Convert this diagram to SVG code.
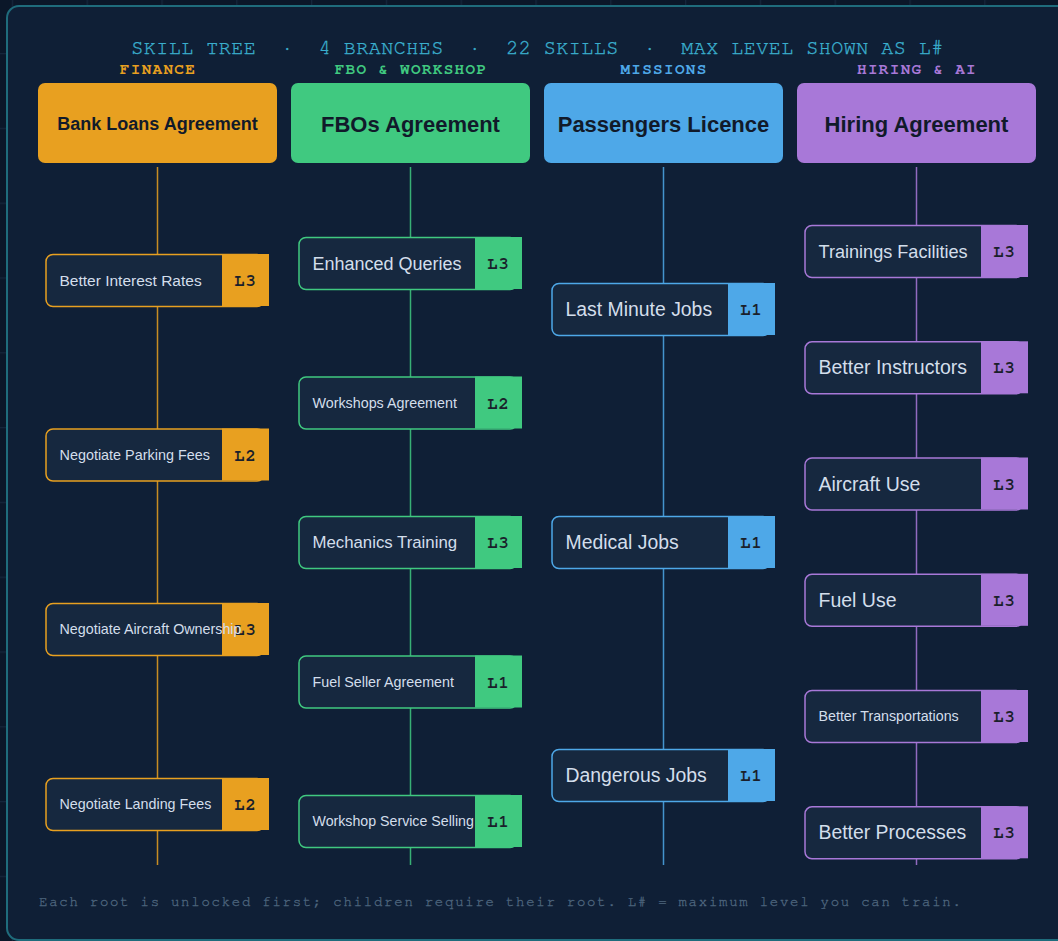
<svg xmlns="http://www.w3.org/2000/svg" width="1058" height="941" viewBox="0 0 1058 941">
  <defs>
    <pattern id="grid" x="11.8" y="-21.8" width="74.8" height="74.8" patternUnits="userSpaceOnUse">
      <path d="M0.5 0V74.8M0 0.5H74.8" fill="none" stroke="#15263b" stroke-width="1.5"/>
    </pattern>
    <style>
      .title{font-family:"Nimbus Mono PS","FreeMono","Courier New",Courier,"Liberation Mono",monospace;font-size:20px;letter-spacing:0.5px;fill:#3aaecd;stroke:#3aaecd;stroke-width:0.35px}
      .blabel{font-family:"Nimbus Mono PS","FreeMono","Courier New",Courier,"Liberation Mono",monospace;font-size:16px;font-weight:bold;letter-spacing:1.3px}
      .roottxt{font-family:"Liberation Sans",Arial,sans-serif;font-weight:bold;fill:#111a2a;text-anchor:middle}
      .node{fill:#16283f;stroke-width:1.5}
      .ntxt{font-family:"Liberation Sans",Arial,sans-serif;fill:#d3deeb}
      .btxt{font-family:"Nimbus Mono PS","FreeMono","Courier New",Courier,"Liberation Mono",monospace;font-size:17px;font-weight:bold;fill:#1a1f2b;text-anchor:middle;letter-spacing:1px}
      .fin{stroke:#e8a020}.fbo{stroke:#40c980}.mis{stroke:#4ea8e8}.hir{stroke:#a878d8}
      .finf{fill:#e8a020}.fbof{fill:#40c980}.misf{fill:#4ea8e8}.hirf{fill:#a878d8}
      .edge{stroke-width:1.5;fill:none;stroke-opacity:0.85}
      .foot{font-family:"Nimbus Mono PS","FreeMono","Courier New",Courier,"Liberation Mono",monospace;font-size:14px;letter-spacing:1.75px;fill:#506880;stroke:#506880;stroke-width:0.3px}
    </style>
  </defs>

  <rect width="1058" height="941" fill="#0b1729"/>
  <rect width="1058" height="941" fill="url(#grid)"/>
  <rect x="7" y="6" width="1080" height="934" rx="12" fill="#0f1f36" stroke="#1f6c7c" stroke-width="2"/>

  <text class="title" x="537.5" y="54" text-anchor="middle" xml:space="preserve">SKILL TREE  ·  4 BRANCHES  ·  22 SKILLS  ·  MAX LEVEL SHOWN AS L#</text>
  <text class="blabel finf" x="158" y="74" text-anchor="middle">FINANCE</text>
  <text class="blabel fbof" x="411" y="74" text-anchor="middle">FBO &amp; WORKSHOP</text>
  <text class="blabel misf" x="664" y="74" text-anchor="middle">MISSIONS</text>
  <text class="blabel hirf" x="917" y="74" text-anchor="middle">HIRING &amp; AI</text>

  <g id="connectors">
    <path class="edge fin" d="M157.5 167V254.5M157.5 306.5V429M157.5 481V603.5M157.5 655.5V778.5M157.5 830.5V865"/>
    <path class="edge fbo" d="M410.5 167V237.5M410.5 289.5V377M410.5 429V516.5M410.5 568.5V656M410.5 708V795.5M410.5 847.5V865"/>
    <path class="edge mis" d="M663.5 167V283.5M663.5 335.5V516.5M663.5 568.5V749.5M663.5 801.5V865"/>
    <path class="edge hir" d="M916.5 167V225.5M916.5 277.5V341.8M916.5 393.8V458M916.5 510V574.3M916.5 626.3V690.5M916.5 742.5V806.8M916.5 858.8V865"/>
  </g>

  <!-- Roots -->
  <g id="root-finance"><rect class="finf" x="38" y="83" width="239" height="80" rx="7"/><text class="roottxt" x="157.5" y="130" font-size="18">Bank Loans Agreement</text></g>
  <g id="root-fbo"><rect class="fbof" x="291" y="83" width="239" height="80" rx="7"/><text class="roottxt" x="410.5" y="132" font-size="22">FBOs Agreement</text></g>
  <g id="root-missions"><rect class="misf" x="544" y="83" width="239" height="80" rx="7"/><text class="roottxt" x="663.5" y="132" font-size="22">Passengers Licence</text></g>
  <g id="root-hiring"><rect class="hirf" x="797" y="83" width="239" height="80" rx="7"/><text class="roottxt" x="916.5" y="132" font-size="22">Hiring Agreement</text></g>

  <!-- Finance -->
  <g id="better-interest-rates"><rect class="node fin" x="46" y="254.5" width="218" height="52" rx="7"/><rect class="finf" x="222" y="254" width="47" height="52"/><text class="btxt" x="245.5" y="286">L3</text><text class="ntxt" x="59.5" y="285.6" font-size="15.5">Better Interest Rates</text></g>
  <g id="negotiate-parking-fees"><rect class="node fin" x="46" y="429" width="218" height="52" rx="7"/><rect class="finf" x="222" y="428.5" width="47" height="52"/><text class="btxt" x="245.5" y="460.5">L2</text><text class="ntxt" x="59.5" y="459.7" font-size="14.4">Negotiate Parking Fees</text></g>
  <g id="negotiate-aircraft-ownership"><rect class="node fin" x="46" y="603.5" width="218" height="52" rx="7"/><rect class="finf" x="222" y="603" width="47" height="52"/><text class="btxt" x="245.5" y="635">L3</text><text class="ntxt" x="59.5" y="634.2" font-size="14.3">Negotiate Aircraft Ownership</text></g>
  <g id="negotiate-landing-fees"><rect class="node fin" x="46" y="778.5" width="218" height="52" rx="7"/><rect class="finf" x="222" y="778" width="47" height="52"/><text class="btxt" x="245.5" y="810">L2</text><text class="ntxt" x="59.5" y="809.2" font-size="14.3">Negotiate Landing Fees</text></g>

  <!-- FBO -->
  <g id="enhanced-queries"><rect class="node fbo" x="299" y="237.5" width="218" height="52" rx="7"/><rect class="fbof" x="475" y="237" width="47" height="52"/><text class="btxt" x="498.5" y="269">L3</text><text class="ntxt" x="312.5" y="269.5" font-size="18">Enhanced Queries</text></g>
  <g id="workshops-agreement"><rect class="node fbo" x="299" y="377" width="218" height="52" rx="7"/><rect class="fbof" x="475" y="376.5" width="47" height="52"/><text class="btxt" x="498.5" y="408.5">L2</text><text class="ntxt" x="312.5" y="407.7" font-size="14.3">Workshops Agreement</text></g>
  <g id="mechanics-training"><rect class="node fbo" x="299" y="516.5" width="218" height="52" rx="7"/><rect class="fbof" x="475" y="516" width="47" height="52"/><text class="btxt" x="498.5" y="548">L3</text><text class="ntxt" x="312.5" y="548" font-size="16.8">Mechanics Training</text></g>
  <g id="fuel-seller-agreement"><rect class="node fbo" x="299" y="656" width="218" height="52" rx="7"/><rect class="fbof" x="475" y="655.5" width="47" height="52"/><text class="btxt" x="498.5" y="687.5">L1</text><text class="ntxt" x="312.5" y="686.7" font-size="14.3">Fuel Seller Agreement</text></g>
  <g id="workshop-service-selling"><rect class="node fbo" x="299" y="795.5" width="218" height="52" rx="7"/><rect class="fbof" x="475" y="795" width="47" height="52"/><text class="btxt" x="498.5" y="827">L1</text><text class="ntxt" x="312.5" y="826.1" font-size="14.2">Workshop Service Selling</text></g>

  <!-- Missions -->
  <g id="last-minute-jobs"><rect class="node mis" x="552" y="283.5" width="218" height="52" rx="7"/><rect class="misf" x="728" y="283" width="47" height="52"/><text class="btxt" x="751.5" y="315">L1</text><text class="ntxt" x="565.5" y="316.3" font-size="19.4">Last Minute Jobs</text></g>
  <g id="medical-jobs"><rect class="node mis" x="552" y="516.5" width="218" height="52" rx="7"/><rect class="misf" x="728" y="516" width="47" height="52"/><text class="btxt" x="751.5" y="548">L1</text><text class="ntxt" x="565.5" y="549.3" font-size="19.4">Medical Jobs</text></g>
  <g id="dangerous-jobs"><rect class="node mis" x="552" y="749.5" width="218" height="52" rx="7"/><rect class="misf" x="728" y="749" width="47" height="52"/><text class="btxt" x="751.5" y="781">L1</text><text class="ntxt" x="565.5" y="782.3" font-size="19.4">Dangerous Jobs</text></g>

  <!-- Hiring -->
  <g id="trainings-facilities"><rect class="node hir" x="805" y="225.5" width="218" height="52" rx="7"/><rect class="hirf" x="981" y="225" width="47" height="52"/><text class="btxt" x="1004.5" y="257">L3</text><text class="ntxt" x="818.5" y="257.5" font-size="18.1">Trainings Facilities</text></g>
  <g id="better-instructors"><rect class="node hir" x="805" y="341.8" width="218" height="52" rx="7"/><rect class="hirf" x="981" y="341.3" width="47" height="52"/><text class="btxt" x="1004.5" y="373.3">L3</text><text class="ntxt" x="818.5" y="374.3" font-size="19.5">Better Instructors</text></g>
  <g id="aircraft-use"><rect class="node hir" x="805" y="458" width="218" height="52" rx="7"/><rect class="hirf" x="981" y="457.5" width="47" height="52"/><text class="btxt" x="1004.5" y="489.5">L3</text><text class="ntxt" x="818.5" y="490.5" font-size="19.5">Aircraft Use</text></g>
  <g id="fuel-use"><rect class="node hir" x="805" y="574.3" width="218" height="52" rx="7"/><rect class="hirf" x="981" y="573.8" width="47" height="52"/><text class="btxt" x="1004.5" y="605.8">L3</text><text class="ntxt" x="818.5" y="606.8" font-size="19.5">Fuel Use</text></g>
  <g id="better-transportations"><rect class="node hir" x="805" y="690.5" width="218" height="52" rx="7"/><rect class="hirf" x="981" y="690" width="47" height="52"/><text class="btxt" x="1004.5" y="722">L3</text><text class="ntxt" x="818.5" y="721.1" font-size="14.25">Better Transportations</text></g>
  <g id="better-processes"><rect class="node hir" x="805" y="806.8" width="218" height="52" rx="7"/><rect class="hirf" x="981" y="806.3" width="47" height="52"/><text class="btxt" x="1004.5" y="838.3">L3</text><text class="ntxt" x="818.5" y="839.3" font-size="19.4">Better Processes</text></g>

  <text class="foot" x="39" y="906">Each root is unlocked first; children require their root. L# = maximum level you can train.</text>
</svg>
